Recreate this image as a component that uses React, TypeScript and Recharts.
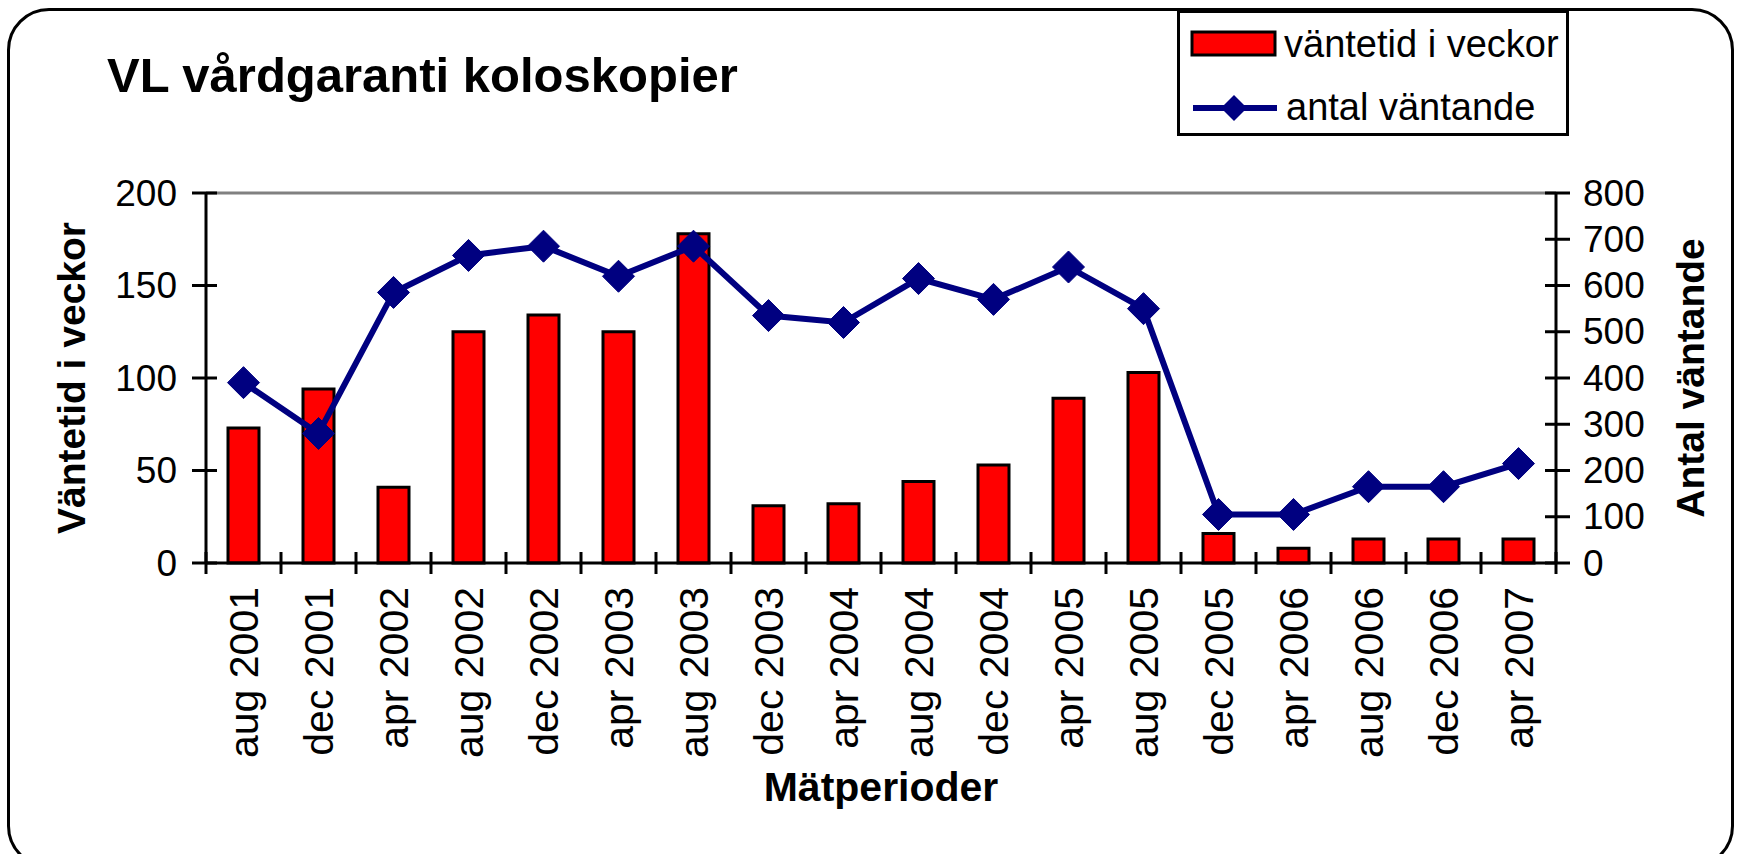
import React from "react"
import {
  Bar,
  ComposedChart,
  Line,
  ReferenceLine,
  XAxis,
  YAxis,
} from "recharts"

const periods = [
  "aug 2001", "dec 2001", "apr 2002", "aug 2002", "dec 2002", "apr 2003",
  "aug 2003", "dec 2003", "apr 2004", "aug 2004", "dec 2004", "apr 2005",
  "aug 2005", "dec 2005", "apr 2006", "aug 2006", "dec 2006", "apr 2007",
]
const waitWeeks = [73, 94, 41, 125, 134, 125, 178, 31, 32, 44, 53, 89, 103, 16, 8, 13, 13, 13]
const waitingCount = [390, 280, 585, 665, 685, 620, 685, 535, 520, 615, 570, 640, 550, 105, 105, 165, 165, 215]
const leftTicks = [0, 50, 100, 150, 200]
const rightTicks = [0, 100, 200, 300, 400, 500, 600, 700, 800]

const data = periods.map((period, i) => ({
  period,
  weeks: waitWeeks[i],
  waiting: waitingCount[i],
}))

const FONT = "'Liberation Sans', Arial, sans-serif"
const NAVY = "#000080"
const RED = "#FF0000"

function LeftTick({ x, y, payload }: any) {
  const ax = x + 29
  return (
    <g>
      <line x1={ax - 14} x2={ax + 11} y1={y} y2={y} stroke="#000" strokeWidth={3} />
      <text x={ax - 29} y={y} textAnchor="end" dominantBaseline="central"
        fontFamily={FONT} fontSize={37} fill="#000">
        {payload.value}
      </text>
    </g>
  )
}

function RightTick({ x, y, payload }: any) {
  const ax = x - 22
  return (
    <g>
      <line x1={ax - 11} x2={ax + 14} y1={y} y2={y} stroke="#000" strokeWidth={3} />
      <text x={ax + 27} y={y} textAnchor="start" dominantBaseline="central"
        fontFamily={FONT} fontSize={37} fill="#000">
        {payload.value}
      </text>
    </g>
  )
}

function PeriodTick({ x, y, payload, index }: any) {
  const ay = y - 28
  const half = payload.offset || 37.5
  const last = index === periods.length - 1
  return (
    <g>
      <line x1={x - half} x2={x - half} y1={ay - 11} y2={ay + 11} stroke="#000" strokeWidth={3} />
      {last && (
        <line x1={x + half} x2={x + half} y1={ay - 11} y2={ay + 11} stroke="#000" strokeWidth={3} />
      )}
      <text x={x} y={ay + 24} textAnchor="end" dominantBaseline="central"
        transform={`rotate(-90, ${x}, ${ay + 24})`}
        fontFamily={FONT} fontSize={41} fill="#000">
        {payload.value}
      </text>
    </g>
  )
}

function Diamond({ cx, cy, index }: any) {
  if (cx == null || cy == null) return <g key={index} />
  const r = 16
  return (
    <path key={index} d={`M${cx},${cy - r} L${cx + r},${cy} L${cx},${cy + r} L${cx - r},${cy} Z`}
      fill={NAVY} stroke={NAVY} strokeWidth={1} />
  )
}

function LegendBox() {
  return (
    <div style={{
      position: "absolute", left: 1177, top: 10, width: 392, height: 126,
      border: "3px solid #000", boxSizing: "border-box", background: "#fff",
    }}>
      <svg width={386} height={120} style={{ display: "block" }}>
        <rect x={12} y={19} width={83} height={23} fill={RED} stroke="#000" strokeWidth={3} />
        <text x={104} y={44} fontFamily={FONT} fontSize={38} fill="#000">väntetid i veckor</text>
        <line x1={13} x2={97} y1={95} y2={95} stroke={NAVY} strokeWidth={6} />
        <path d="M54,82 L67,95 L54,108 L41,95 Z" fill={NAVY} />
        <text x={106} y={107} fontFamily={FONT} fontSize={38} fill="#000">antal väntande</text>
      </svg>
    </div>
  )
}

export default function App() {
  return (
    <div style={{ position: "absolute", left: 0, top: 0, width: 1739, height: 854, overflow: "hidden", background: "#fff" }}>
      <div style={{
        position: "absolute", left: 7, top: 8, width: 1727, height: 860,
        border: "3px solid #000", borderRadius: 42, boxSizing: "border-box",
      }} />
      <div style={{
        position: "absolute", left: 107, top: 51, fontFamily: FONT, fontWeight: "bold",
        fontSize: 49, lineHeight: "49px", whiteSpace: "nowrap", color: "#000",
      }}>
        VL vårdgaranti koloskopier
      </div>
      <div style={{ position: "absolute", left: 0, top: 0 }}>
        <ComposedChart
          width={1739}
          height={854}
          data={data}
          margin={{ top: 193, right: 83, bottom: 51, left: 106 }}
        >
          <XAxis
            dataKey="period"
            interval={0}
            height={240}
            tickSize={12}
            tickMargin={16}
            tickLine={false}
            axisLine={{ stroke: "#000", strokeWidth: 3 }}
            tick={<PeriodTick />}
            label={({ viewBox }: any) => (
              <text x={viewBox.x + viewBox.width / 2} y={viewBox.y + 238} textAnchor="middle"
                fontFamily={FONT} fontWeight="bold" fontSize={41} fill="#000">
                Mätperioder
              </text>
            )}
          />
          <YAxis
            yAxisId="left"
            width={100}
            domain={[0, 200]}
            ticks={leftTicks}
            interval={0}
            tickSize={12}
            tickMargin={17}
            tickLine={false}
            axisLine={{ stroke: "#000", strokeWidth: 3 }}
            tick={<LeftTick />}
            label={({ viewBox }: any) => {
              const cx = viewBox.x - 35
              const cy = viewBox.y + viewBox.height / 2
              return (
                <text x={cx} y={cy} textAnchor="middle" dominantBaseline="central"
                  transform={`rotate(-90, ${cx}, ${cy})`}
                  fontFamily={FONT} fontWeight="bold" fontSize={39} fill="#000">
                  Väntetid i veckor
                </text>
              )
            }}
          />
          <YAxis
            yAxisId="right"
            orientation="right"
            width={100}
            domain={[0, 800]}
            ticks={rightTicks}
            interval={0}
            tickSize={12}
            tickMargin={10}
            tickLine={false}
            axisLine={{ stroke: "#000", strokeWidth: 3 }}
            tick={<RightTick />}
            label={({ viewBox }: any) => {
              const cx = viewBox.x + 134
              const cy = viewBox.y + viewBox.height / 2
              return (
                <text x={cx} y={cy} textAnchor="middle" dominantBaseline="central"
                  transform={`rotate(-90, ${cx}, ${cy})`}
                  fontFamily={FONT} fontWeight="bold" fontSize={39} fill="#000">
                  Antal väntande
                </text>
              )
            }}
          />
          <ReferenceLine yAxisId="left" y={200} stroke="#808080" strokeWidth={3} />
          <Bar
            yAxisId="left"
            dataKey="weeks"
            name="väntetid i veckor"
            fill={RED}
            stroke="#000"
            strokeWidth={3}
            barSize={31}
            isAnimationActive={false}
          />
          <Line
            yAxisId="right"
            dataKey="waiting"
            name="antal väntande"
            type="linear"
            stroke={NAVY}
            strokeWidth={6}
            dot={<Diamond />}
            activeDot={false}
            isAnimationActive={false}
          />
        </ComposedChart>
      </div>
      <LegendBox />
    </div>
  )
}
